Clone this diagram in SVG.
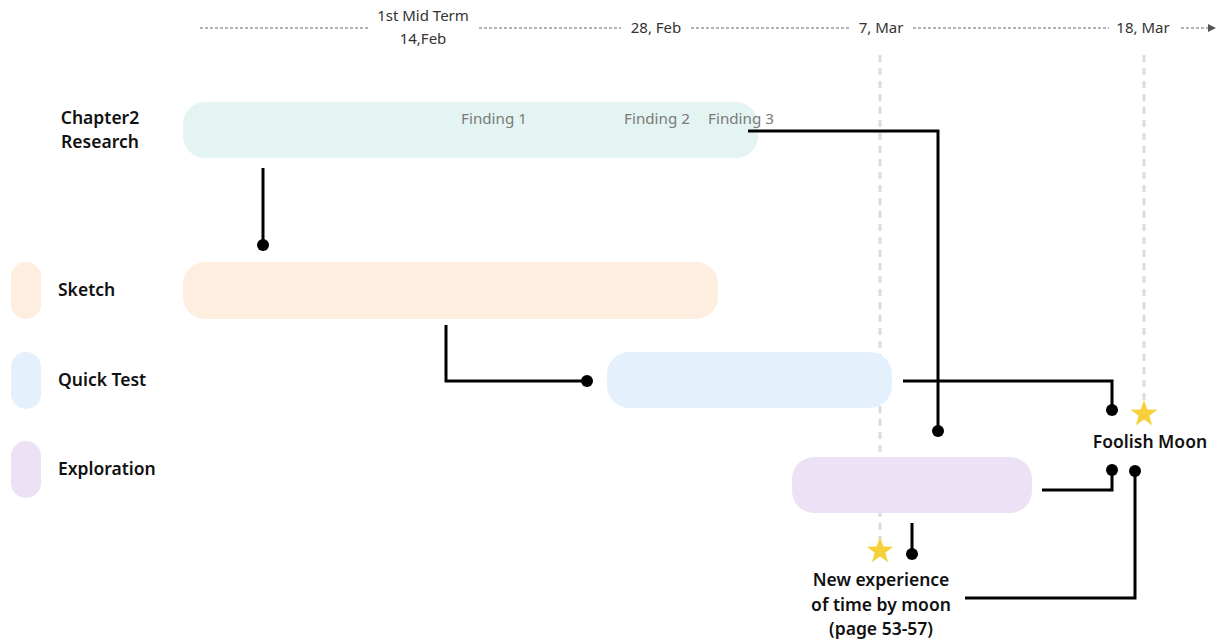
<svg xmlns="http://www.w3.org/2000/svg" width="1222" height="643" viewBox="0 0 1222 643">
<style>
.lbl{font-family:"Noto Sans",Lato,sans-serif;font-weight:600;font-size:17.5px;fill:#111}
.date{font-family:"Noto Sans",Lato,sans-serif;font-size:15px;fill:#333}
.find{font-family:"Noto Sans",Lato,sans-serif;font-size:15.2px;fill:#7a7a7a}
.tl{stroke:#666;stroke-width:1;stroke-dasharray:3,2;fill:none}
.grid{stroke:#dcdcdc;stroke-width:3;stroke-dasharray:7,6;fill:none}
.con{stroke:#000;stroke-width:3;fill:none}
.dot{fill:#000}
.star{fill:#f5d03a}
</style>
<defs>
<marker id="arr" markerWidth="8" markerHeight="8" refX="7" refY="4" orient="auto" markerUnits="userSpaceOnUse">
<path d="M0,0 L8,4 L0,8 z" fill="#555"/>
</marker>
<polygon id="starShape" points="0,-14 3.3,-4.5 13.3,-4.3 5.3,1.7 8.2,11.3 0,5.6 -8.2,11.3 -5.3,1.7 -13.3,-4.3 -3.3,-4.5"/>
</defs>

<g id="timeline">
<line class="tl" x1="200" y1="28" x2="370" y2="28"/>
<line class="tl" x1="479" y1="28" x2="621" y2="28"/>
<line class="tl" x1="691" y1="28" x2="851" y2="28"/>
<line class="tl" x1="913" y1="28" x2="1109" y2="28"/>
<line class="tl" x1="1181" y1="28" x2="1215" y2="28" marker-end="url(#arr)"/>
<text class="date" x="423" y="21" text-anchor="middle">1st Mid Term</text>
<text class="date" x="423" y="44" text-anchor="middle">14,Feb</text>
<text class="date" x="656" y="33" text-anchor="middle">28, Feb</text>
<text class="date" x="881" y="33" text-anchor="middle">7, Mar</text>
<text class="date" x="1143" y="33" text-anchor="middle">18, Mar</text>
</g>

<g id="gridlines">
<line class="grid" x1="880" y1="55" x2="880" y2="540"/>
<line class="grid" x1="1144" y1="55" x2="1144" y2="400"/>
</g>

<g id="legend">
<g id="legend-sketch"><rect x="11" y="262" width="30" height="57" rx="15" fill="#fdeee0"/><text class="lbl" x="58" y="296">Sketch</text></g>
<g id="legend-quicktest"><rect x="11" y="352" width="30" height="57" rx="15" fill="#e4f0fb"/><text class="lbl" x="58" y="386">Quick Test</text></g>
<g id="legend-exploration"><rect x="11" y="441" width="30" height="57" rx="15" fill="#ede1f6"/><text class="lbl" x="58" y="475">Exploration</text></g>
</g>

<g id="chapter2-research">
<text class="lbl" x="100" y="124" text-anchor="middle">Chapter2</text>
<text class="lbl" x="100" y="148" text-anchor="middle">Research</text>
<rect x="183" y="102" width="575" height="56" rx="22" fill="#e3f4f2"/>
<text class="find" x="494" y="124" text-anchor="middle">Finding 1</text>
<text class="find" x="657" y="124" text-anchor="middle">Finding 2</text>
<text class="find" x="741" y="124" text-anchor="middle">Finding 3</text>
</g>

<g id="sketch-bar"><rect x="183" y="262" width="535" height="57" rx="22" fill="#fdeee0"/></g>
<g id="quicktest-bar"><rect x="607" y="352" width="285" height="56" rx="22" fill="#e4f0fb"/></g>
<g id="exploration-bar"><rect x="792" y="457" width="240" height="56" rx="22" fill="#ede1f6"/></g>

<g id="foolish-moon">
<use href="#starShape" class="star" x="1144" y="414"/>
<text class="lbl" x="1150" y="448" text-anchor="middle">Foolish Moon</text>
</g>

<g id="new-experience">
<use href="#starShape" class="star" x="880" y="551"/>
<text class="lbl" x="881" y="586" text-anchor="middle">New experience</text>
<text class="lbl" x="881" y="611" text-anchor="middle">of time by moon</text>
<text class="lbl" x="881" y="635" text-anchor="middle">(page 53-57)</text>
</g>

<g id="connectors">
<path class="con" d="M263,168 V245"/><circle class="dot" cx="263" cy="245" r="6"/>
<path class="con" d="M446,325 V381 H587"/><circle class="dot" cx="587" cy="381" r="6"/>
<path class="con" d="M748,131 H938 V431"/><circle class="dot" cx="938" cy="431" r="6"/>
<path class="con" d="M903,381 H1112 V410"/><circle class="dot" cx="1112" cy="410" r="6"/>
<path class="con" d="M1042,490 H1112 V470"/><circle class="dot" cx="1112" cy="470" r="6"/>
<path class="con" d="M965,598 H1135 V471"/><circle class="dot" cx="1135" cy="471" r="6"/>
<path class="con" d="M912,523 V554"/><circle class="dot" cx="912" cy="554" r="6"/>
</g>
</svg>
